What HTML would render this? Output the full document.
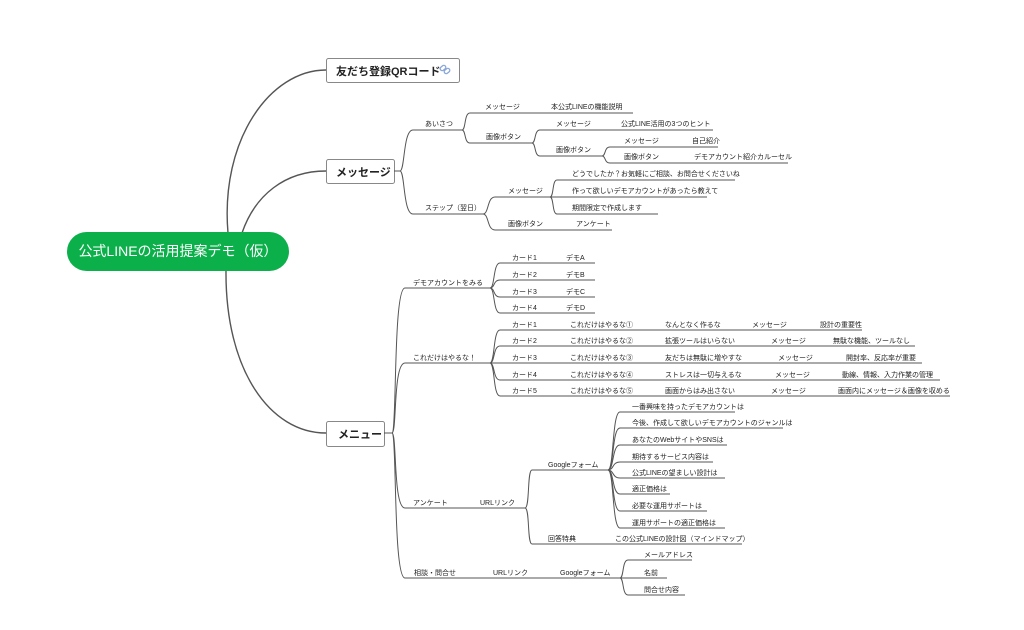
<!DOCTYPE html>
<html><head><meta charset="utf-8"><style>
html,body{margin:0;padding:0;background:#fff;}
svg{display:block;}
text{font-family:"Liberation Sans","Noto Sans CJK JP",sans-serif;fill:#222;}
.s{font-size:7px;}
.b{font-size:11px;font-weight:bold;}
</style></head><body>
<svg width="1024" height="630" viewBox="0 0 1024 630" xmlns="http://www.w3.org/2000/svg">
<g fill="none" stroke="#555" stroke-width="1.4">
<path d="M228 233 C220 140,270 70,326 70"/>
<path d="M242 233 C255 195,285 171,326 171"/>
<path d="M226 270 C225 370,270 433,326 433"/>
</g>
<rect x="67" y="232" width="222" height="39" rx="19.5" fill="#0cb04b"/>
<text x="178" y="256" text-anchor="middle" style="font-size:14px;fill:#fff;">公式LINEの活用提案デモ（仮）</text>
<g fill="#fff" stroke="#888" stroke-width="1">
<rect x="326.5" y="58.5" width="133" height="24" rx="2"/>
<rect x="326.5" y="159.5" width="68" height="24" rx="2"/>
<rect x="326.5" y="421.5" width="58" height="25" rx="2"/>
</g>
<text class="b" x="336" y="75">友だち登録QRコード</text>
<g fill="none" stroke="#8aa6d8" stroke-width="1.3"><rect x="440" y="66" width="6" height="4" rx="2" transform="rotate(-40 443 68)"/><rect x="444" y="69" width="6" height="4" rx="2" transform="rotate(-40 447 71)"/></g>
<text class="b" x="336" y="176">メッセージ</text>
<text class="b" x="338" y="438">メニュー</text>
<g fill="none" stroke="#555" stroke-width="1">
<path d="M394 171 H400"/>
<path d="M400 171 C405 171,403 130,413 130 H462"/>
<path d="M400 171 C405 171,403 214,413 214 H483"/>
<path d="M462 130 C466 130,464 113,470 113 H633"/>
<path d="M462 130 C466 130,464 143,470 143 H532"/>
<path d="M532 143 C536 143,534 130,540 130 H713"/>
<path d="M532 143 C536 143,534 156,540 156 H602"/>
<path d="M602 156 C606 156,604 147,610 147 H718"/>
<path d="M602 156 C606 156,604 163,610 163 H788"/>
<path d="M483 214 C489 214,487 197,495 197 H550"/>
<path d="M483 214 C489 214,487 230,495 230 H612"/>
<path d="M550 197 C554 197,552 180,557 180 H735"/>
<path d="M550 197 H707"/>
<path d="M550 197 C554 197,552 214,557 214 H658"/>
<path d="M384 433 H392"/>
<path d="M392 433 C397 433,393 288,405 288 H490"/>
<path d="M392 433 C397 433,393 363,405 363 H490"/>
<path d="M392 433 C397 433,393 508,405 508 H525"/>
<path d="M392 433 C397 433,393 578,405 578 H620"/>
<path d="M490 288 C495 288,493 263,500 263 H595"/>
<path d="M490 288 C495 288,493 280,500 280 H595"/>
<path d="M490 288 C495 288,493 297,500 297 H595"/>
<path d="M490 288 C495 288,493 313,500 313 H595"/>
<path d="M490 363 C495 363,493 330,500 330 H862"/>
<path d="M490 363 C495 363,493 346,500 346 H915"/>
<path d="M490 363 H922"/>
<path d="M490 363 C495 363,493 380,500 380 H940"/>
<path d="M490 363 C495 363,493 396,500 396 H950"/>
<path d="M525 508 C530 508,527 470,532 470 H608"/>
<path d="M525 508 C530 508,527 544,532 544 H742"/>
<path d="M608 470 C614 470,612 412,620 412 H735"/>
<path d="M608 470 C614 470,612 428,620 428 H783"/>
<path d="M608 470 C614 470,612 445,620 445 H727"/>
<path d="M608 470 C614 470,612 462,620 462 H713"/>
<path d="M608 470 C614 470,612 478,620 478 H725"/>
<path d="M608 470 C614 470,612 494,620 494 H670"/>
<path d="M608 470 C614 470,612 511,620 511 H707"/>
<path d="M608 470 C614 470,612 528,620 528 H725"/>
<path d="M620 578 C624 578,622 560,628 560 H692"/>
<path d="M620 578 H667"/>
<path d="M620 578 C624 578,622 595,628 595 H685"/>
</g>
<g class="s">
<text x="425" y="126">あいさつ</text>
<text x="425" y="210">ステップ（翌日）</text>
<text x="485" y="109">メッセージ</text>
<text x="551" y="109">本公式LINEの機能説明</text>
<text x="486" y="139">画像ボタン</text>
<text x="556" y="126">メッセージ</text>
<text x="621" y="126">公式LINE活用の3つのヒント</text>
<text x="556" y="152">画像ボタン</text>
<text x="624" y="143">メッセージ</text>
<text x="692" y="143">自己紹介</text>
<text x="624" y="159">画像ボタン</text>
<text x="694" y="159">デモアカウント紹介カルーセル</text>
<text x="508" y="193">メッセージ</text>
<text x="572" y="176">どうでしたか？お気軽にご相談、お問合せくださいね</text>
<text x="572" y="193">作って欲しいデモアカウントがあったら教えて</text>
<text x="572" y="210">期間限定で作成します</text>
<text x="508" y="226">画像ボタン</text>
<text x="576" y="226">アンケート</text>

<text x="413" y="285">デモアカウントをみる</text>
<text x="512" y="260">カード1</text><text x="566" y="260">デモA</text>
<text x="512" y="277">カード2</text><text x="566" y="277">デモB</text>
<text x="512" y="294">カード3</text><text x="566" y="294">デモC</text>
<text x="512" y="310">カード4</text><text x="566" y="310">デモD</text>
<text x="413" y="360">これだけはやるな！</text>
<text x="512" y="327">カード1</text><text x="570" y="327">これだけはやるな①</text><text x="665" y="327">なんとなく作るな</text><text x="752" y="327">メッセージ</text><text x="820" y="327">設計の重要性</text>
<text x="512" y="343">カード2</text><text x="570" y="343">これだけはやるな②</text><text x="665" y="343">拡張ツールはいらない</text><text x="771" y="343">メッセージ</text><text x="833" y="343">無駄な機能、ツールなし</text>
<text x="512" y="360">カード3</text><text x="570" y="360">これだけはやるな③</text><text x="665" y="360">友だちは無駄に増やすな</text><text x="778" y="360">メッセージ</text><text x="846" y="360">開封率、反応率が重要</text>
<text x="512" y="377">カード4</text><text x="570" y="377">これだけはやるな④</text><text x="665" y="377">ストレスは一切与えるな</text><text x="775" y="377">メッセージ</text><text x="842" y="377">動線、情報、入力作業の管理</text>
<text x="512" y="393">カード5</text><text x="570" y="393">これだけはやるな⑤</text><text x="665" y="393">画面からはみ出さない</text><text x="771" y="393">メッセージ</text><text x="838" y="393">画面内にメッセージ＆画像を収める</text>

<text x="413" y="505">アンケート</text><text x="480" y="505">URLリンク</text>
<text x="548" y="467">Googleフォーム</text>
<text x="548" y="541">回答特典</text><text x="615" y="541">この公式LINEの設計図（マインドマップ）</text>
<text x="632" y="409">一番興味を持ったデモアカウントは</text>
<text x="632" y="425">今後、作成して欲しいデモアカウントのジャンルは</text>
<text x="632" y="442">あなたのWebサイトやSNSは</text>
<text x="632" y="459">期待するサービス内容は</text>
<text x="632" y="475">公式LINEの望ましい設計は</text>
<text x="632" y="491">適正価格は</text>
<text x="632" y="508">必要な運用サポートは</text>
<text x="632" y="525">運用サポートの適正価格は</text>
<text x="414" y="575">相談・問合せ</text><text x="493" y="575">URLリンク</text><text x="560" y="575">Googleフォーム</text>
<text x="644" y="557">メールアドレス</text>
<text x="644" y="575">名前</text>
<text x="644" y="592">問合せ内容</text>
</g>
</svg>
</body></html>
